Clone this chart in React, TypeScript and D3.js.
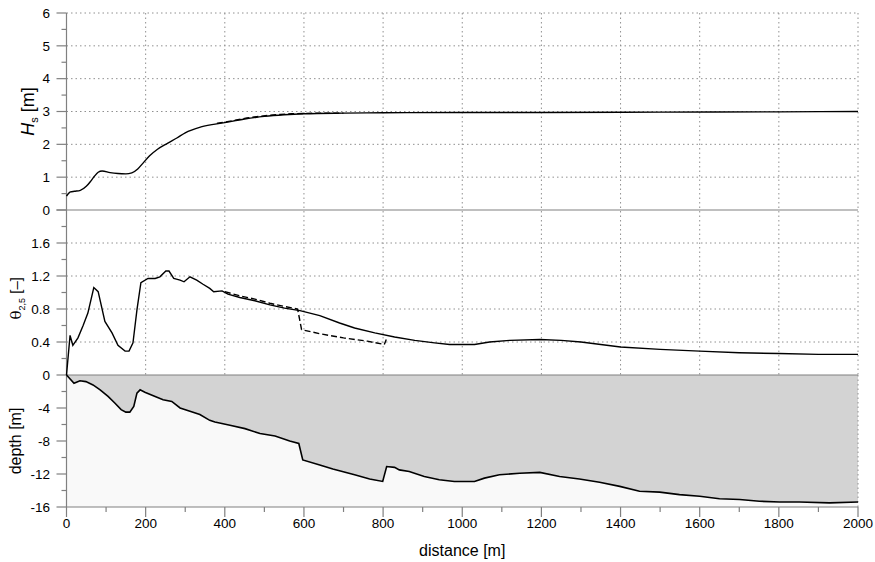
import React from 'react';
import * as d3 from 'd3';

// significant wave height [m]
const hsDist = [0, 5, 10, 20, 35, 50, 60, 70, 80, 90, 110, 130, 150, 165, 180, 195, 210, 230, 255, 280, 300, 340, 400, 450, 500, 550, 600, 700, 800, 1000, 1200, 1500, 1800, 2000];
const hsMain = [0.42, 0.5, 0.55, 0.57, 0.6, 0.72, 0.86, 1.02, 1.15, 1.19, 1.14, 1.11, 1.1, 1.13, 1.25, 1.45, 1.65, 1.85, 2.03, 2.2, 2.35, 2.53, 2.66, 2.77, 2.85, 2.9, 2.93, 2.95, 2.96, 2.97, 2.97, 2.98, 2.99, 3.0];
const hsAltDist = [380, 420, 450, 480, 510, 540, 570, 600, 650, 700];
const hsAlt = [2.64, 2.72, 2.79, 2.84, 2.88, 2.91, 2.93, 2.94, 2.95, 2.95];

// theta 2,5 [-]
const thDist = [0, 9, 16, 29, 42, 54, 69, 80, 97, 115, 130, 148, 158, 168, 178, 188, 206, 224, 236, 251, 259, 271, 287, 297, 312, 329, 345, 362, 372, 393, 408, 438, 476, 514, 551, 590, 640, 690, 728, 779, 829, 880, 930, 968, 1031, 1069, 1120, 1196, 1250, 1300, 1400, 1500, 1600, 1700, 1800, 1900, 2000];
const thMain = [0, 0.48, 0.36, 0.45, 0.6, 0.75, 1.06, 1.01, 0.65, 0.51, 0.36, 0.29, 0.29, 0.39, 0.79, 1.12, 1.17, 1.17, 1.19, 1.26, 1.26, 1.17, 1.15, 1.13, 1.19, 1.15, 1.1, 1.05, 1.01, 1.02, 0.98, 0.94, 0.9, 0.85, 0.81, 0.78, 0.72, 0.63, 0.57, 0.51, 0.46, 0.42, 0.39, 0.37, 0.37, 0.4, 0.42, 0.43, 0.42, 0.4, 0.34, 0.31, 0.29, 0.27, 0.26, 0.25, 0.25];
const thAltDist = [400, 438, 476, 514, 551, 584, 594, 640, 700, 760, 803, 808];
const thAlt = [1.01, 0.96, 0.92, 0.87, 0.83, 0.8, 0.55, 0.5, 0.45, 0.41, 0.37, 0.43];

// bed profile [m]
const depthDist = [0, 19, 34, 49, 67, 85, 105, 122, 138, 150, 160, 170, 178, 186, 198, 224, 244, 266, 287, 312, 337, 362, 375, 413, 451, 489, 527, 564, 587, 597, 640, 673, 728, 766, 799, 809, 829, 841, 866, 904, 942, 980, 1031, 1056, 1094, 1145, 1196, 1246, 1296, 1347, 1398, 1448, 1499, 1549, 1600, 1650, 1701, 1751, 1802, 1852, 1928, 2000];
const depth = [0, -1.0, -0.7, -0.8, -1.2, -1.8, -2.6, -3.4, -4.2, -4.5, -4.5, -3.8, -2.2, -1.8, -2.1, -2.6, -3.0, -3.2, -4.0, -4.4, -4.8, -5.5, -5.7, -6.1, -6.5, -7.1, -7.4, -8.0, -8.3, -10.3, -10.9, -11.4, -12.1, -12.6, -12.9, -11.1, -11.2, -11.5, -11.7, -12.3, -12.7, -12.9, -12.9, -12.5, -12.1, -11.9, -11.8, -12.3, -12.6, -13.0, -13.5, -14.1, -14.2, -14.5, -14.7, -15.0, -15.1, -15.3, -15.4, -15.4, -15.5, -15.4];

const xMajor = [0, 200, 400, 600, 800, 1000, 1200, 1400, 1600, 1800, 2000];
const xMinor = [100, 300, 500, 700, 900, 1100, 1300, 1500, 1700, 1900];
const hsTicks = [0, 1, 2, 3, 4, 5, 6];
const thTicks = [0.4, 0.8, 1.2, 1.6];
const depthTicks = [0, -4, -8, -12, -16];

const W = 875;
const H = 562;
const FONT = 'Liberation Sans, Arial, sans-serif';
const AXIS = '#808080';
const GRID = '#909090';

type P = [number, number];
const zip = (xs: number[], ys: number[]): P[] => xs.map((x, i) => [x, ys[i]]);

export default function App() {
  const x = d3.scaleLinear().domain([0, 2000]).range([66.5, 858]);
  const yHs = d3.scaleLinear().domain([0, 6]).range([210, 13]);
  const yTh = d3.scaleLinear().domain([0, 2]).range([375, 210]);
  const yD = d3.scaleLinear().domain([-16, 0]).range([507, 375]);

  const hsLine = d3.line<P>().x(d => x(d[0])).y(d => yHs(d[1])).curve(d3.curveMonotoneX);
  const thLine = d3.line<P>().x(d => x(d[0])).y(d => yTh(d[1]));
  const dLine = d3.line<P>().x(d => x(d[0])).y(d => yD(d[1]));
  const waterArea = d3.area<P>().x(d => x(d[0])).y0(yD(0)).y1(d => yD(d[1]));

  const depthPts = zip(depthDist, depth);
  const x0 = x(0);
  const x1 = x(2000);

  return (
    <svg width={W} height={H} style={{ position: 'absolute', left: 0, top: 0, background: '#fff' }} fontFamily={FONT}>
      {/* bottom panel fills */}
      <rect x={x0} y={yD(0)} width={x1 - x0} height={yD(-16) - yD(0)} fill="#f9f9f9" />
      <path d={waterArea(depthPts) || ''} fill="#d3d3d3" />

      {/* grid in the two upper panels */}
      <g stroke={GRID} strokeWidth={1} strokeDasharray="1.5,3">
        {hsTicks.slice(1).map(t => (
          <line key={'hg' + t} x1={x0} x2={x1} y1={yHs(t)} y2={yHs(t)} />
        ))}
        {thTicks.map(t => (
          <line key={'tg' + t} x1={x0} x2={x1} y1={yTh(t)} y2={yTh(t)} />
        ))}
        {xMajor.slice(1).map(t => (
          <line key={'vg' + t} x1={x(t)} x2={x(t)} y1={yHs(6)} y2={yTh(0)} />
        ))}
        <line x1={x1} x2={x1} y1={yD(0)} y2={yD(-16)} />
      </g>

      {/* panel separators and axes */}
      <g stroke={AXIS} strokeWidth={1.2} fill="none">
        <line x1={x0} x2={x1} y1={yHs(0)} y2={yHs(0)} />
        <line x1={x0} x2={x1} y1={yD(0)} y2={yD(0)} />
        <line x1={x0} x2={x1} y1={yD(-16)} y2={yD(-16)} />
        <line x1={x0} x2={x0} y1={yHs(6)} y2={yD(-16)} />
        {xMajor.map(t => (
          <line key={'xt' + t} x1={x(t)} x2={x(t)} y1={yD(-16)} y2={yD(-16) + 10} />
        ))}
        {xMinor.map(t => (
          <line key={'xm' + t} x1={x(t)} x2={x(t)} y1={yD(-16)} y2={yD(-16) + 5} />
        ))}
        {d3.range(0, 6.01, 0.5).map(t => (
          <line key={'ht' + t} x1={x0 - (t % 1 === 0 ? 10 : 5)} x2={x0} y1={yHs(t)} y2={yHs(t)} />
        ))}
        {d3.range(0.2, 2.01, 0.2).map(t => {
          const major = Math.round(t * 10) % 4 === 0;
          return <line key={'tt' + t} x1={x0 - (major ? 10 : 5)} x2={x0} y1={yTh(t)} y2={yTh(t)} />;
        })}
        {d3.range(-16, 0.01, 2).map(t => (
          <line key={'dt' + t} x1={x0 - (t % 4 === 0 ? 10 : 5)} x2={x0} y1={yD(t)} y2={yD(t)} />
        ))}
      </g>

      {/* curves */}
      <path d={hsLine(zip(hsAltDist, hsAlt)) || ''} fill="none" stroke="#000" strokeWidth={1.4} strokeDasharray="6,3" />
      <path d={hsLine(zip(hsDist, hsMain)) || ''} fill="none" stroke="#000" strokeWidth={1.4} />
      <path d={thLine(zip(thAltDist, thAlt)) || ''} fill="none" stroke="#000" strokeWidth={1.4} strokeDasharray="6,3" />
      <path d={thLine(zip(thDist, thMain)) || ''} fill="none" stroke="#000" strokeWidth={1.4} />
      <path d={dLine(depthPts) || ''} fill="none" stroke="#000" strokeWidth={1.6} />

      {/* tick labels */}
      <g fontSize={13.5} fill="#000" textAnchor="end">
        {hsTicks.map(t => (
          <text key={'hl' + t} x={50} y={yHs(t)} dy="0.35em">{t}</text>
        ))}
        {thTicks.map(t => (
          <text key={'tl' + t} x={50} y={yTh(t)} dy="0.35em">{d3.format('.1f')(t)}</text>
        ))}
        {depthTicks.map(t => (
          <text key={'dl' + t} x={50} y={yD(t)} dy="0.35em">{t}</text>
        ))}
      </g>
      <g fontSize={13.5} fill="#000" textAnchor="middle">
        {xMajor.map(t => (
          <text key={'xl' + t} x={x(t)} y={528}>{t}</text>
        ))}
      </g>

      {/* axis titles */}
      <text x={x(1000)} y={556} fontSize={16} textAnchor="middle">distance [m]</text>
      <text transform={`translate(34,${yHs(3)}) rotate(-90)`} fontSize={18} textAnchor="middle">
        <tspan fontStyle="italic">H</tspan>
        <tspan fontSize={11} dy={4}>s</tspan>
        <tspan dy={-4}> [m]</tspan>
      </text>
      <text transform={`translate(21,${yTh(0.93)}) rotate(-90)`} fontSize={15} textAnchor="middle">
        <tspan fontFamily="DejaVu Serif, serif">θ</tspan>
        <tspan fontSize={9} dy={4}>2,5</tspan>
        <tspan dy={-4}> [–]</tspan>
      </text>
      <text transform={`translate(21,${yD(-8)}) rotate(-90)`} fontSize={16} textAnchor="middle">depth [m]</text>
    </svg>
  );
}
